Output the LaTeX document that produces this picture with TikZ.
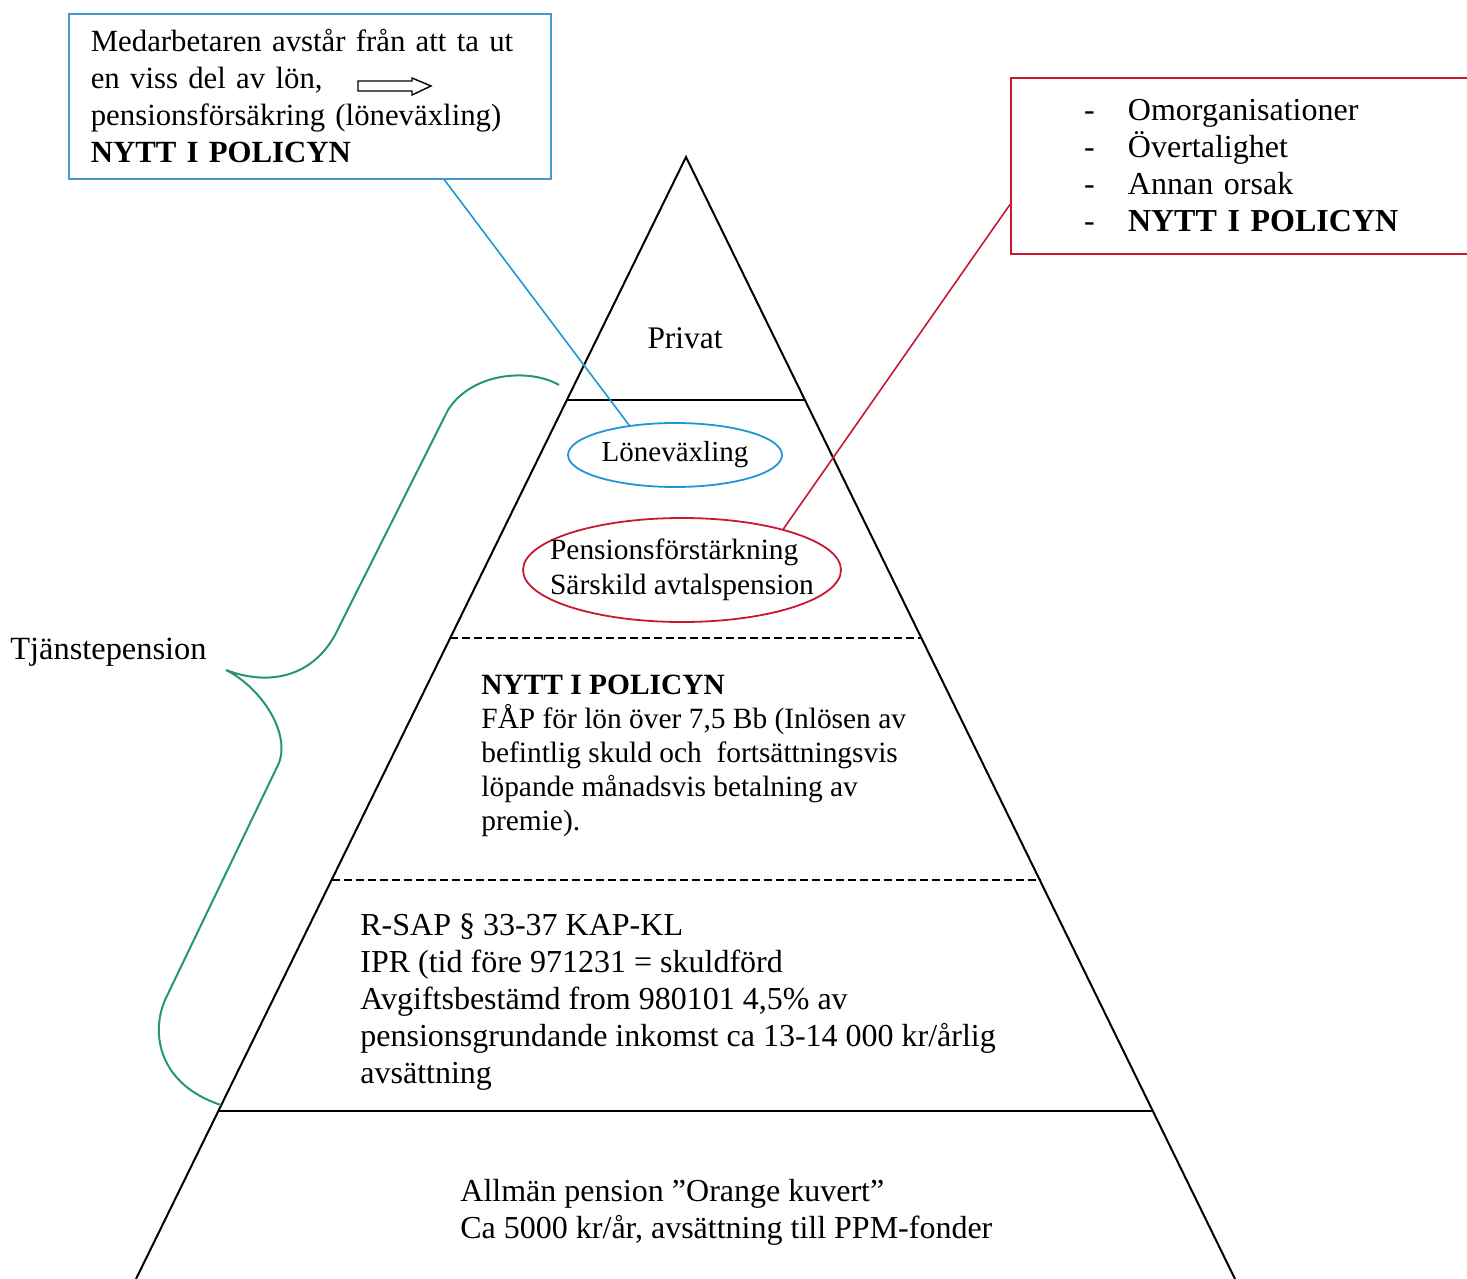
\documentclass[tikz,border=0pt]{standalone}
\usepackage{fontspec}
\setmainfont{Liberation Serif}
\definecolor{boxblue}{RGB}{70,150,210}
\definecolor{lineblue}{RGB}{30,150,215}
\definecolor{polred}{RGB}{200,25,50}
\definecolor{bracegreen}{RGB}{35,150,120}
\usetikzlibrary{shapes.geometric, calc, positioning}

\begin{document}
\begin{tikzpicture}[x=0.5pt,y=-0.5pt,
  txt/.style={align=left,inner sep=0pt,font=\fontsize{16}{18.5}\selectfont},
  layer/.style={line width=1pt},
  sublayer/.style={line width=0.8pt,dash pattern=on 4pt off 2pt}]
\useasboundingbox (0,0) rectangle (1467,1279);
\clip (0,0) rectangle (1467,1279);
% pyramid
\coordinate (apex) at (686,157);
\coordinate (bl) at (136,1279);
\coordinate (br) at (1235,1279);
\draw[layer] (bl) -- (apex) -- (br);
\draw[layer] ($(apex)!0.2166!(bl)$) -- ($(apex)!0.2166!(br)$);
\draw[sublayer] ($(apex)!0.4287!(bl)$) -- ($(apex)!0.4287!(br)$);
\draw[sublayer] ($(apex)!0.6444!(bl)$) -- ($(apex)!0.6444!(br)$);
\draw[line width=1.3pt] ($(apex)!0.8503!(bl)$) -- ($(apex)!0.8503!(br)$);

% layer texts
\node[txt, font=\fontsize{15.7}{18.5}\selectfont] (privat) at (685,338) {Privat};
\node[txt, draw=lineblue, line width=0.9pt, ellipse, minimum width=107pt, minimum height=32pt, font=\fontsize{14.5}{17}\selectfont] (lon) at (675,455) {Löneväxling};
\node[txt, draw=polred, line width=0.9pt, ellipse, minimum width=159pt, minimum height=52pt, inner xsep=-10pt, font=\fontsize{14.7}{17.5}\selectfont] (pfs) at (682,570) {Pensionsförstärkning\\Särskild avtalspension};
\node[txt, anchor=west, font=\fontsize{14.7}{17}\selectfont] (fap) at (481,756) {\textbf{NYTT I POLICYN}\\FÅP för lön över 7,5 Bb (Inlösen av\\befintlig skuld och\ \ fortsättningsvis\\löpande månadsvis betalning av\\premie).};
\node[txt, anchor=west] (rsap) at (360,1002) {R-SAP \S{} 33-37 KAP-KL\\IPR (tid före 971231 = skuldförd\\Avgiftsbestämd from 980101 4,5\% av\\pensionsgrundande inkomst ca 13-14 000 kr/årlig\\avsättning};
\node[txt, anchor=west] (allman) at (460,1212) {Allmän pension ”Orange kuvert”\\Ca 5000 kr/år, avsättning till PPM-fonder};
\node[txt, anchor=west, font=\fontsize{16.2}{18.5}\selectfont] (tjp) at (10,652) {Tjänstepension};

% side boxes
\node[txt, draw=boxblue, line width=0.8pt, anchor=north west, minimum height=82.5pt, text width=219pt, inner xsep=11pt, font=\fontsize{15.4}{18.5}\selectfont] (lvbox) at (68,13) {Medarbetaren avstår från att ta ut\\en viss del av lön,\\pensionsförsäkring (löneväxling)\\\textbf{NYTT I POLICYN}};
\draw[line width=0.7pt] (358,81) -- (412,81) -- (412,78) -- (431,86) -- (412,95) -- (412,91) -- (358,91) -- cycle;
\node[txt, draw=polred, line width=1pt, anchor=north west, minimum height=88pt, text width=200pt, inner xsep=36.5pt] (polbox) at (1010,77) {\makebox[22pt][l]{-}Omorganisationer\\\makebox[22pt][l]{-}Övertalighet\\\makebox[22pt][l]{-}Annan orsak\\\makebox[22pt][l]{-}\textbf{NYTT I POLICYN}};

% connectors
\draw[lineblue, line width=0.8pt] ($(lvbox.south west)!0.778!(lvbox.south east)$) -- (lon.147);
\draw[polred, line width=0.8pt] (pfs.22) -- ($(polbox.north west)!0.716!(polbox.south west)$);

% brace
\draw[bracegreen, line width=1pt] (559,385) .. controls (530,368) and (472,372) .. (448,410)
  -- (335,635) .. controls (310,680) and (265,685) .. (226,670)
  .. controls (262,688) and (292,735) .. (278,765)
  -- (165,1000) .. controls (150,1035) and (160,1085) .. (221,1105);
\end{tikzpicture}
\end{document}
